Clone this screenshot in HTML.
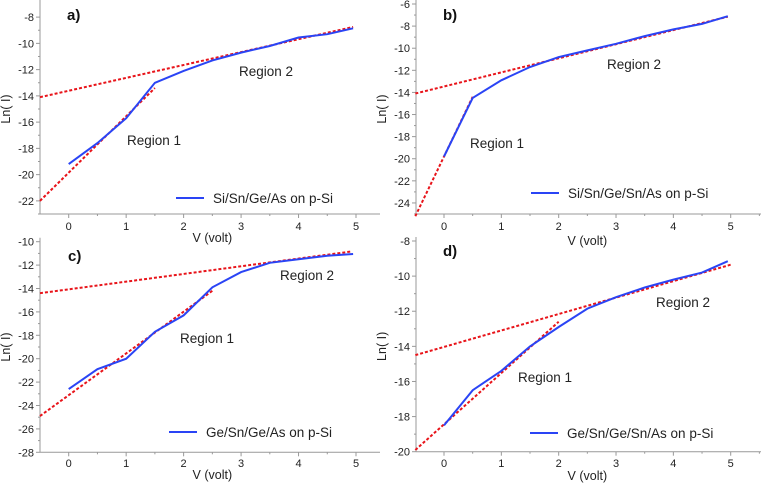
<!DOCTYPE html>
<html><head><meta charset="utf-8"><style>
html,body{margin:0;padding:0;background:#fff;}
svg{display:block;font-family:"Liberation Sans",Arial,sans-serif;}
</style></head><body>
<svg id="fig" width="761" height="485" viewBox="0 0 761 485"></svg>
<script>
// Voltage categories
const voltsA = [0,0.5,1,1.5,2,2.5,3,3.5,4,4.5,4.95];
const lnIA = [-19.2,-17.6,-15.7,-13,-12.1,-11.3,-10.7,-10.2,-9.55,-9.3,-8.85];
const fit1A = [[-0.5,-22],[1.5,-13.4]];
const fit2A = [[-0.5,-14.1],[4.95,-8.75]];
const yTicksA = [-22,-20,-18,-16,-14,-12,-10,-8];

const voltsB = [0,0.5,1,1.5,2,2.5,3,3.5,4,4.5,4.95];
const lnIB = [-19.8,-14.5,-12.9,-11.7,-10.8,-10.2,-9.6,-8.9,-8.3,-7.8,-7.1];
const fit1B = [[-0.5,-25.2],[0.5,-14.4]];
const fit2B = [[-0.5,-14.1],[4.95,-7.15]];
const yTicksB = [-24,-22,-20,-18,-16,-14,-12,-10,-8,-6];

const voltsC = [0,0.5,1,1.5,2,2.5,3,3.5,4,4.5,4.95];
const lnIC = [-22.6,-20.9,-20,-17.7,-16.3,-13.9,-12.6,-11.8,-11.5,-11.2,-11.05];
const fit1C = [[-0.5,-24.9],[2.5,-14.2]];
const fit2C = [[-0.5,-14.4],[4.9,-10.85]];
const yTicksC = [-28,-26,-24,-22,-20,-18,-16,-14,-12,-10];

const voltsD = [0,0.5,1,1.5,2,2.5,3,3.5,4,4.5,4.95];
const lnID = [-18.5,-16.5,-15.4,-14,-12.9,-11.85,-11.2,-10.65,-10.2,-9.8,-9.15];
const fit1D = [[-0.5,-19.9],[2,-12.6]];
const fit2D = [[-0.5,-14.5],[5,-9.35]];
const yTicksD = [-20,-18,-16,-14,-12,-10,-8];

const xTicks = [0,1,2,3,4,5];

const NS="http://www.w3.org/2000/svg";
const svg=document.getElementById('fig');
function mk(tag,attrs,parent){const e=document.createElementNS(NS,tag);for(const k in attrs)e.setAttribute(k,attrs[k]);(parent||svg).appendChild(e);return e;}

const panels=[
 {id:'a',v:voltsA,y:lnIA,f1:fit1A,f2:fit2A,yt:yTicksA,ax:40,x0:68.7,x5:356,right:380,ymin:-23,ymax:-7,ytop:4,ybot:214,leg:'Si/Sn/Ge/As on p-Si',legx:176,legy:198,r1:[127,137],r2:[239,68],xl:226,vl:238,ll:[67,20]},
 {id:'b',v:voltsB,y:lnIB,f1:fit1B,f2:fit2B,yt:yTicksB,ax:416,x0:444,x5:730.7,right:761,ymin:-25,ymax:-6,ytop:4,ybot:214,leg:'Si/Sn/Ge/Sn/As on p-Si',legx:531,legy:193,r1:[470,140],r2:[607,61],xl:226,vl:241,ll:[443,20]},
 {id:'c',v:voltsC,y:lnIC,f1:fit1C,f2:fit2C,yt:yTicksC,ax:40,x0:68.7,x5:356,right:380,ymin:-28,ymax:-10,ytop:241.7,ybot:452.3,leg:'Ge/Sn/Ge/As on p-Si',legx:169,legy:432,r1:[180,335],r2:[280,272],xl:463,vl:475,ll:[68,261]},
 {id:'d',v:voltsD,y:lnID,f1:fit1D,f2:fit2D,yt:yTicksD,ax:416,x0:444,x5:730.7,right:761,ymin:-20,ymax:-8,ytop:241,ybot:451.7,leg:'Ge/Sn/Ge/Sn/As on p-Si',legx:530,legy:433,r1:[518,374],r2:[656,299],xl:463,vl:476,ll:[443,256]}
];

panels.forEach(p=>{
  const g=mk('g',{});
  
  
  const sx=v=>p.x0+(p.x5-p.x0)*v/5;
  const sy=v=>p.ybot-(v-p.ymin)/(p.ymax-p.ymin)*(p.ybot-p.ytop);
  const ya=mk('line',{x1:p.ax,y1:p.ytop-4,x2:p.ax,y2:p.ybot,stroke:'#999','stroke-width':1},g);
  
  
  const xa=mk('line',{x1:p.ax,y1:p.ybot,x2:p.right,y2:p.ybot,stroke:'#999','stroke-width':1},g);
  
  
  const step=p.yt[1]-p.yt[0];
  p.yt.forEach(t=>{
    const yy=sy(t);
    mk('line',{x1:p.ax-4,y1:yy,x2:p.ax,y2:yy,stroke:'#999'},g);
    if(t-step/2>=p.ymin-0.01){const ym=sy(t-step/2);mk('line',{x1:p.ax-2,y1:ym,x2:p.ax,y2:ym,stroke:'#999'},g);}
    const tx=mk('text',{x:p.ax-6,y:yy+4,'text-anchor':'end','font-size':11,fill:'#222'},g);
    tx.textContent=t;
    
    
  });
  for(let v=-0.5;v<=5.5;v+=0.5){const xx=sx(v);if(xx<p.ax||xx>p.right)continue;
    mk('line',{x1:xx,y1:p.ybot,x2:xx,y2:p.ybot+(Number.isInteger(v)?4:2),stroke:'#999'},g);}
  xTicks.forEach(t=>{
    const tx=mk('text',{x:sx(t),y:p.xl+4,'text-anchor':'middle','font-size':11,fill:'#222'},g);
    tx.textContent=t;
    
    
  });
  const xt=mk('text',{x:sx(2.5),y:p.vl+4,'text-anchor':'middle','font-size':12.5,fill:'#222'},g);
  xt.textContent='V (volt)';
  
  
  const yl=mk('text',{x:0,y:0,'text-anchor':'middle','font-size':12.5,fill:'#222',transform:`translate(${p.ax-30},${(p.ytop+p.ybot)/2}) rotate(-90)`},g);
  yl.textContent='Ln( I)';
  
  
  [p.f1,p.f2].forEach((f,i)=>{
    const l=mk('line',{x1:sx(f[0][0]),y1:sy(f[0][1]),x2:sx(f[1][0]),y2:sy(f[1][1]),stroke:'#e8141a','stroke-width':2,'stroke-dasharray':'3,2'},g);
    
    
  });
  const pts=p.v.map((v,i)=>sx(v).toFixed(1)+','+sy(p.y[i]).toFixed(1)).join(' ');
  const pl=mk('polyline',{points:pts,fill:'none',stroke:'#2a44f5','stroke-width':2},g);
  
  
  const lb=mk('text',{x:p.ll[0],y:p.ll[1],'font-size':15,'font-weight':'bold',fill:'#111'},g);
  lb.textContent=p.id+')';
  
  
  const r1=mk('text',{x:p.r1[0],y:p.r1[1]+8,'font-size':13.5,fill:'#222'},g);
  r1.textContent='Region 1';
  
  
  const r2=mk('text',{x:p.r2[0],y:p.r2[1]+8,'font-size':13.5,fill:'#222'},g);
  r2.textContent='Region 2';
  
  
  const lg=mk('g',{},g);
  
  
  mk('line',{x1:p.legx,y1:p.legy,x2:p.legx+28,y2:p.legy,stroke:'#2a44f5','stroke-width':2},lg);
  const lt=mk('text',{x:p.legx+37,y:p.legy+5,'font-size':13.5,fill:'#222'},lg);
  lt.textContent=p.leg;
});
</script>
</body></html>
